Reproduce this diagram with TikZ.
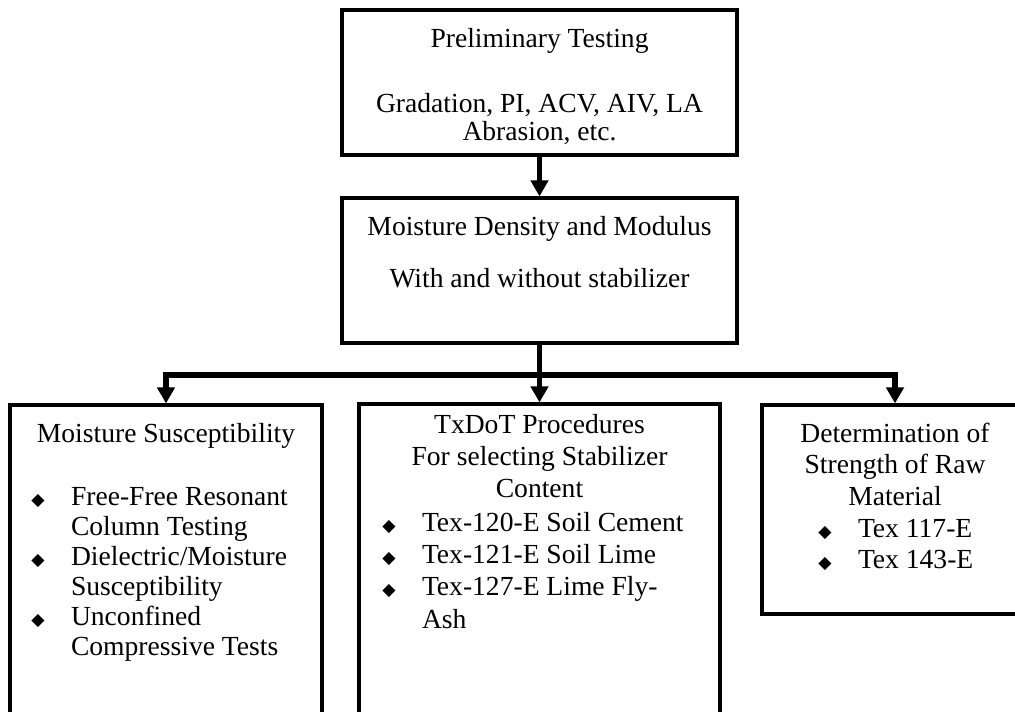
\documentclass[tikz,border=0pt]{standalone}
\usepackage{fontspec}
\setmainfont{Liberation Serif}
\newfontfamily\dmdfont{DejaVu Sans}
\usetikzlibrary{arrows.meta,fit}

\tikzset{
  card/.style={draw,line width=1.4pt,inner sep=0pt},
  txt/.style={inner sep=0pt,anchor=base},
  link/.style={line width=2.6pt,-{Triangle[width=7.5pt,length=7pt]}},
}
\newcommand{\dmd}{\makebox[17.2pt][l]{\dmdfont\fontsize{7.5}{7.5}\selectfont ◆}}

\begin{document}
\begin{tikzpicture}[x=0.435pt,y=-0.435pt,line join=miter]
\useasboundingbox (0,0) rectangle (1015,711);
\clip (0,0) rectangle (1015,711);
% boxes
\node[card,fit={(342,10)(737,155)}] (prelim) {};
\node[card,fit={(342,198)(737,343)}] (moist) {};
\node[card,fit={(10,405)(322,760)}] (suscept) {};
\node[card,fit={(359,404)(720,760)}] (txdot) {};
\node[card,fit={(762,405)(1028,614)}] (raw) {};
% texts
\node[txt,font=\fontsize{12}{12.2}\selectfont] (prelimtxt) at (539.5,47)
  {\begin{tabular}[t]{@{}c@{}}Preliminary Testing\\[16.1pt]
   Gradation, PI, ACV, AIV, LA\\Abrasion, etc.\end{tabular}};
\node[txt,font=\fontsize{12}{13}\selectfont] (moisttxt) at (539.5,235)
  {\begin{tabular}[t]{@{}c@{}}Moisture Density and Modulus\\[10pt]
   With and without stabilizer\end{tabular}};
\node[txt,font=\fontsize{12}{13.05}\selectfont] (suschead) at (166,442)
  {\begin{tabular}[t]{@{}c@{}}Moisture Susceptibility\end{tabular}};
\node[txt,anchor=base west,font=\fontsize{12}{13.05}\selectfont] (susclist) at (31,505)
  {\begin{tabular}[t]{@{}l@{}l@{}}
   \dmd & Free-Free Resonant\\ & Column Testing\\
   \dmd & Dielectric/Moisture\\ & Susceptibility\\
   \dmd & Unconfined\\ & Compressive Tests\end{tabular}};
\node[txt,font=\fontsize{12}{14.1}\selectfont] (txdothead) at (539.5,433)
  {\begin{tabular}[t]{@{}c@{}}TxDoT Procedures\\For selecting Stabilizer\\Content\end{tabular}};
\node[txt,anchor=base west,font=\fontsize{12}{14.1}\selectfont] (txdotlist) at (382,531)
  {\begin{tabular}[t]{@{}l@{}l@{}}
   \dmd & Tex-120-E Soil Cement\\
   \dmd & Tex-121-E Soil Lime\\
   \dmd & Tex-127-E Lime Fly-\\ & Ash\end{tabular}};
\node[txt,font=\fontsize{12}{13.7}\selectfont] (rawhead) at (895,442)
  {\begin{tabular}[t]{@{}c@{}}Determination of\\Strength of Raw\\Material\end{tabular}};
\node[txt,anchor=base west,font=\fontsize{12}{13.7}\selectfont] (rawlist) at (818,537)
  {\begin{tabular}[t]{@{}l@{}l@{}}
   \dmd & Tex 117-E\\
   \dmd & Tex 143-E\end{tabular}};
% connectors
\coordinate (bus) at (539.5,375);
\draw[link] (prelim) -- (moist);
\draw[link] (moist) -- (txdot);
\draw[link] (bus) -| (suscept);
\draw[link] (bus) -| (raw);
\end{tikzpicture}
\end{document}
